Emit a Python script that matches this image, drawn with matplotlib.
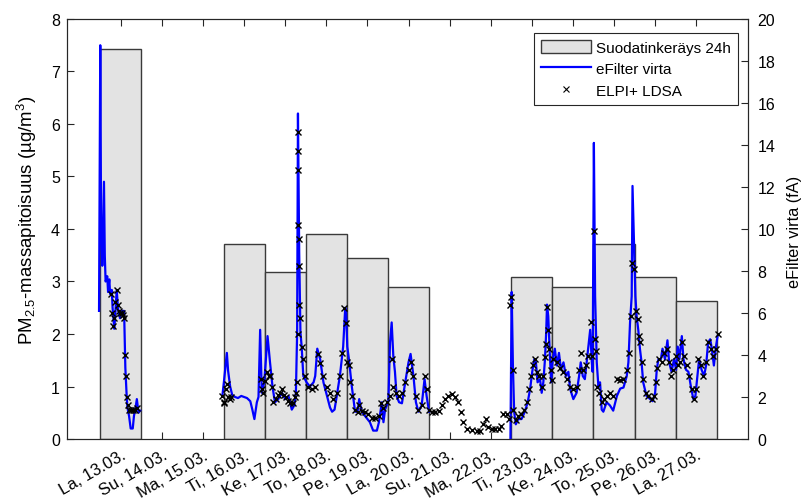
import numpy as np
import matplotlib
matplotlib.use("Agg")
import matplotlib.pyplot as plt
import matplotlib.transforms as mtransforms
from matplotlib.patches import Patch
from matplotlib.lines import Line2D

plt.rcParams['font.family'] = ['Liberation Sans', 'DejaVu Sans']
plt.rcParams['mathtext.fontset'] = 'custom'
plt.rcParams['mathtext.rm'] = 'Liberation Sans'
plt.rcParams['mathtext.it'] = 'Liberation Sans:italic'

# paivat (maaliskuu 2021), x-akselin jako
days = list(range(13, 28))
day_labels = ["La, 13.03.", "Su, 14.03.", "Ma, 15.03.", "Ti, 16.03.", "Ke, 17.03.",
              "To, 18.03.", "Pe, 19.03.", "La, 20.03.", "Su, 21.03.", "Ma, 22.03.",
              "Ti, 23.03.", "Ke, 24.03.", "To, 25.03.", "Pe, 26.03.", "La, 27.03."]

# suodatinkeraykset 24h, PM2.5 (ug/m3)
filter_days = [13, 16, 17, 18, 19, 20, 23, 24, 25, 26, 27]
filter_pm = [7.43, 3.72, 3.18, 3.9, 3.45, 2.9, 3.08, 2.9, 3.72, 3.08, 2.62]

# eFilter virta (fA)
efilter_t = [12.47, 12.50, 12.52, 12.55, 12.59, 12.61, 12.63, 12.67, 12.69, 12.72,
             12.74, 12.78, 12.80, 12.84, 12.86, 12.90, 12.93, 12.98, 13.03, 13.08,
             13.11, 13.14, 13.16, 13.20, 13.24, 13.29, 13.32, 13.36, 13.39, 13.43, 13.47,
             np.nan,
             15.47, 15.51, 15.58, 15.61, 15.66, 15.71, 15.78, 15.85, 15.93, 16.00,
             16.07, 16.15, 16.20, 16.25, 16.31, 16.35, 16.39, 16.43, 16.49, 16.57,
             16.63, 16.69, 16.75, 16.83, 16.92, 17.00, 17.08, 17.16, 17.22, 17.26,
             17.29, 17.31, 17.34, 17.37, 17.40, 17.44, 17.52, 17.60, 17.69, 17.73,
             17.78, 17.85, 17.93, 18.01, 18.09, 18.14, 18.20, 18.25, 18.33, 18.41,
             18.46, 18.48, 18.51, 18.55, 18.62, 18.70, 18.76, 18.80, 18.86, 18.94,
             19.06, 19.14, 19.23, 19.28, 19.35, 19.39, 19.43, 19.51, 19.55, 19.59,
             19.63, 19.67, 19.71, 19.77, 19.84, 19.92, 20.00, 20.05, 20.12, 20.18,
             20.24, 20.32, 20.39, 20.44, 20.50,
             np.nan,
             22.48, 22.51, 22.54, 22.57, 22.61, 22.67, 22.75, 22.83, 22.90, 22.96,
             23.01, 23.06, 23.10, 23.14, 23.20, 23.24, 23.28, 23.32, 23.35, 23.37,
             23.40, 23.44, 23.47, 23.51, 23.56, 23.61, 23.66, 23.71, 23.77, 23.83,
             23.89, 23.93, 24.01, 24.09, 24.15, 24.19, 24.24, 24.29, 24.35, 24.42,
             24.46, 24.48, 24.51, 24.54, 24.58, 24.62, 24.66, 24.70, 24.74, 24.82,
             24.90, 24.98, 25.07, 25.15, 25.23, 25.31, 25.35, 25.39, 25.43, 25.45,
             25.49, 25.52, 25.55, 25.59, 25.63, 25.67, 25.71, 25.79, 25.88, 25.94,
             26.00, 26.04, 26.08, 26.14, 26.18, 26.24, 26.30, 26.34, 26.40, 26.46,
             26.51, 26.55, 26.59, 26.65, 26.69, 26.75, 26.81, 26.87, 26.93, 26.98,
             27.03, 27.07, 27.13, 27.19, 27.24, 27.29, 27.34, 27.38, 27.43, 27.48, 27.52]
efilter_fa = [6.1, 18.75, 10.0, 8.25, 12.25, 8.75, 7.5, 7.75, 7.0, 7.6,
              6.9, 7.1, 6.25, 5.25, 5.75, 7.1, 6.25, 5.75, 6.1, 6.1,
              3.4, 2.15, 1.5, 1.1, 0.5, 0.5, 1.1, 1.5, 1.9, 1.25, 1.35,
              np.nan,
              2.05, 2.75, 4.1, 3.25, 2.5, 2.1, 2.0, 1.95, 2.05, 2.0,
              1.95, 1.8, 1.4, 0.95, 1.75, 2.0, 5.2, 2.2, 2.7, 4.9,
              3.65, 2.5, 1.75, 1.9, 2.2, 1.9, 2.05, 1.4, 1.6, 2.2,
              5.1, 15.5, 8.9, 5.1, 4.4, 3.0, 2.7, 2.5, 2.7, 3.0,
              4.3, 3.8, 2.7, 2.1, 1.5, 1.3, 1.4, 2.0, 3.0, 4.4,
              6.25, 6.1, 4.4, 3.8, 2.5, 1.3, 1.3, 1.9, 1.3, 1.1,
              0.8, 0.4, 0.4, 0.8, 1.75, 0.8, 1.4, 1.8, 4.6, 5.55,
              3.95, 3.2, 2.05, 1.75, 1.7, 2.7, 3.65, 4.05, 3.0, 1.75,
              1.3, 1.6, 2.85, 2.05, 1.3,
              np.nan,
              0.0, 7.0, 3.5, 1.3, 0.7, 0.95, 0.95, 1.3, 1.75, 2.4,
              3.2, 3.8, 3.65, 2.7, 2.85, 2.2, 2.7, 3.8, 5.1, 6.4,
              5.85, 3.95, 2.7, 3.8, 4.3, 3.5, 4.1, 3.3, 3.65, 3.0,
              3.2, 2.4, 1.9, 2.2, 3.0, 3.65, 3.0, 2.85, 3.95, 5.2,
              3.65, 3.2, 14.1, 6.8, 3.65, 2.5, 2.7, 1.4, 1.3, 1.75,
              1.6, 1.35, 2.05, 2.4, 2.45, 3.0, 3.65, 5.55, 6.8, 12.05,
              9.0, 6.8, 5.85, 5.2, 4.3, 3.65, 2.7, 2.05, 1.9, 1.8,
              2.2, 3.3, 3.8, 3.8, 4.3, 3.8, 4.7, 3.65, 3.2, 3.8,
              3.3, 4.4, 3.8, 4.9, 3.8, 3.3, 3.2, 2.5, 1.9, 2.05,
              3.0, 3.8, 3.3, 3.0, 3.5, 4.6, 4.75, 4.3, 3.5, 4.4, 4.9]

# ELPI+ LDSA, skaalattu oikealle akselille
ldsa_t = [12.76, 12.79, 12.81, 12.84, 12.87, 12.90, 12.92, 12.95, 12.98, 13.02,
          13.06, 13.08, 13.10, 13.13, 13.15, 13.18, 13.21, 13.25, 13.30, 13.35, 13.40,
          15.47, 15.50, 15.52, 15.56, 15.59, 15.62, 15.65, 15.68,
          16.41, 16.44, 16.47, 16.51, 16.55, 16.60, 16.63, 16.67, 16.71, 16.77,
          16.82, 16.88, 16.92, 16.97, 17.02, 17.07, 17.12, 17.18, 17.24, 17.27,
          17.29, 17.300, 17.305, 17.310, 17.312, 17.315, 17.325, 17.335, 17.34, 17.37,
          17.40, 17.44, 17.48, 17.56, 17.65, 17.73, 17.79, 17.85, 17.93, 18.01,
          18.09, 18.17, 18.25, 18.33, 18.39, 18.44, 18.47, 18.50, 18.54, 18.58,
          18.63, 18.70, 18.76, 18.80, 18.86, 18.94, 19.02, 19.11, 19.19, 19.27,
          19.33, 19.39, 19.47, 19.55, 19.59, 19.63, 19.69, 19.77, 19.85, 19.92,
          20.00, 20.05, 20.12, 20.18, 20.24, 20.32, 20.39, 20.44, 20.50, 20.57,
          20.65, 20.73, 20.81, 20.89, 20.97, 21.05, 21.13, 21.21, 21.28, 21.33,
          21.42, 21.54, 21.66, 21.74, 21.82, 21.88, 21.94, 22.02, 22.10, 22.19,
          22.25, 22.31, 22.39, 22.45, 22.48, 22.49, 22.53, 22.55, 22.61, 22.67,
          22.74, 22.82, 22.88, 22.92, 22.98, 23.04, 23.08, 23.12, 23.18, 23.24,
          23.28, 23.32, 23.35, 23.38, 23.40, 23.43, 23.47, 23.48, 23.52, 23.61,
          23.69, 23.77, 23.85, 23.93, 24.01, 24.09, 24.16, 24.20, 24.25, 24.32,
          24.37, 24.43, 24.47, 24.52, 24.54, 24.56, 24.59, 24.64, 24.70, 24.76,
          24.82, 24.90, 24.98, 25.07, 25.15, 25.23, 25.31, 25.37, 25.41, 25.44,
          25.49, 25.53, 25.58, 25.61, 25.63, 25.67, 25.71, 25.78, 25.83, 25.92,
          25.97, 26.02, 26.05, 26.10, 26.16, 26.22, 26.28, 26.33, 26.38, 26.44,
          26.50, 26.55, 26.61, 26.66, 26.71, 26.77, 26.82, 26.89, 26.95, 26.99,
          27.05, 27.11, 27.17, 27.24, 27.29, 27.35, 27.42, 27.47, 27.52]
ldsa_val = [6.9, 6.0, 5.4, 5.75, 6.5, 7.1, 6.4, 6.1, 6.0, 6.0,
            5.9, 5.75, 4.0, 3.0, 2.0, 1.6, 1.4, 1.4, 1.4, 1.4, 1.5,
            2.05, 1.75, 1.7, 2.4, 2.6, 2.0, 1.9, 2.0,
            2.85, 2.4, 2.2, 2.75, 3.2, 3.0, 3.0, 2.5, 1.75, 1.9,
            2.1, 2.2, 2.4, 2.1, 2.0, 1.8, 1.7, 1.7, 2.0, 2.2,
            2.7, 5.0, 14.6, 13.7, 12.8, 10.2, 9.5, 8.25, 6.4, 5.75,
            4.4, 3.8, 3.0, 2.5, 2.4, 2.5, 4.05, 3.6, 3.0, 2.5,
            2.2, 1.9, 2.2, 3.0, 4.1, 6.25, 5.5, 3.65, 3.5, 2.7,
            2.05, 1.4, 1.3, 1.6, 1.35, 1.3, 1.2, 1.0, 1.0, 1.1,
            1.7, 1.5, 1.75, 2.05, 3.8, 2.5, 2.2, 2.05, 2.2, 2.7,
            3.3, 3.65, 3.0, 2.05, 1.4, 1.6, 3.0, 2.4, 1.4, 1.3,
            1.3, 1.35, 1.6, 1.9, 2.05, 2.15, 2.0, 1.75, 1.3, 0.8,
            0.5, 0.45, 0.4, 0.4, 0.7, 0.95, 0.55, 0.5, 0.5, 0.5,
            0.6, 1.2, 1.2, 0.95, 6.4, 6.75, 3.3, 1.4, 0.9, 1.1,
            1.2, 1.4, 1.75, 2.4, 3.0, 3.5, 3.8, 3.2, 3.0, 2.5,
            3.0, 3.9, 4.5, 6.3, 5.2, 4.3, 3.3, 2.8, 3.8, 3.65,
            3.4, 3.2, 2.85, 2.5, 2.4, 2.5, 3.3, 4.1, 3.3, 3.5,
            3.95, 5.55, 3.95, 9.9, 4.75, 4.2, 2.5, 2.2, 1.75, 1.9,
            2.05, 2.2, 2.05, 2.85, 2.8, 2.85, 3.3, 4.1, 5.85, 8.4,
            8.1, 6.1, 5.7, 4.9, 4.6, 3.65, 2.85, 2.2, 2.05, 1.9,
            2.05, 2.7, 3.4, 3.8, 3.65, 4.1, 4.3, 3.65, 3.0, 3.3,
            3.95, 3.5, 3.65, 4.6, 3.95, 3.5, 3.0, 2.4, 1.9, 2.4,
            3.8, 3.5, 3.0, 3.65, 4.6, 4.3, 3.95, 4.3, 5.0]

axcol = '#262626'
fs = 11.5

fig = plt.figure(figsize=(8.05, 5.02), dpi=100)
ax = fig.add_axes([0.0832, 0.1235, 0.846, 0.8367])
ax2 = ax.twinx()

ax.bar(filter_days, filter_pm, width=1.0, color='#e3e3e3',
       edgecolor='#3a3a3a', linewidth=1.0, zorder=2)

ax2.plot(efilter_t, efilter_fa, color='#0000ff', linewidth=1.6, zorder=3)
ax2.plot(ldsa_t, ldsa_val, linestyle='none', marker='x', color='k',
         markersize=4.2, markeredgewidth=1.0, zorder=4)

ax.set_xlim(11.69, 28.26)
ax.set_ylim(0, 8)
ax2.set_ylim(0, 20)
ax.set_yticks(range(0, 9))
ax2.set_yticks(range(0, 21, 2))
ax.set_xticks(days)
ax.set_xticklabels(day_labels, rotation=30, ha='right', va='top',
                   rotation_mode='anchor', fontsize=12)
# paivamaarat hieman oikealle, kuten MATLABin kallistetut tekstit
shift = mtransforms.ScaledTranslation(9 / 100, -2 / 100, fig.dpi_scale_trans)
for lbl in ax.get_xticklabels():
    lbl.set_transform(lbl.get_transform() + shift)

ax.tick_params(axis='x', direction='in', top=True, length=5, width=0.8,
               color=axcol, labelcolor='k', pad=6)
ax.tick_params(axis='y', direction='in', length=5, width=0.8, color=axcol,
               labelsize=fs, pad=5)
ax2.tick_params(axis='y', direction='in', length=5, width=0.8, color=axcol,
                labelsize=fs, pad=7)
for a in (ax, ax2):
    for s in a.spines.values():
        s.set_color(axcol)
        s.set_linewidth(0.8)

ax.set_ylabel(r'PM$_{\mathrm{2.5}}$-massapitoisuus (µg/m$^{\mathrm{3}}$)', fontsize=13.4)
ax.yaxis.set_label_coords(-0.041, 0.524)
ax2.set_ylabel('eFilter virta (fA)', fontsize=11.7)
ax2.yaxis.set_label_coords(1.057, 0.495)

handles = [Patch(facecolor='#e3e3e3', edgecolor='#3a3a3a', linewidth=1.0),
           Line2D([], [], color='#0000ff', linewidth=1.6),
           Line2D([], [], linestyle='none', marker='x', color='k',
                  markersize=5, markeredgewidth=0.8)]
leg = ax2.legend(handles, ['Suodatinkeräys 24h', 'eFilter virta', 'ELPI+ LDSA'],
                 loc='upper right', bbox_to_anchor=(0.985, 0.966), borderaxespad=0,
                 fontsize=11, fancybox=False, framealpha=1, edgecolor=axcol,
                 handlelength=3.3, handleheight=0.9, handletextpad=0.33,
                 labelspacing=0.45, borderpad=0.45)
leg.get_frame().set_linewidth(0.8)

fig.savefig('out.png', dpi=100)
